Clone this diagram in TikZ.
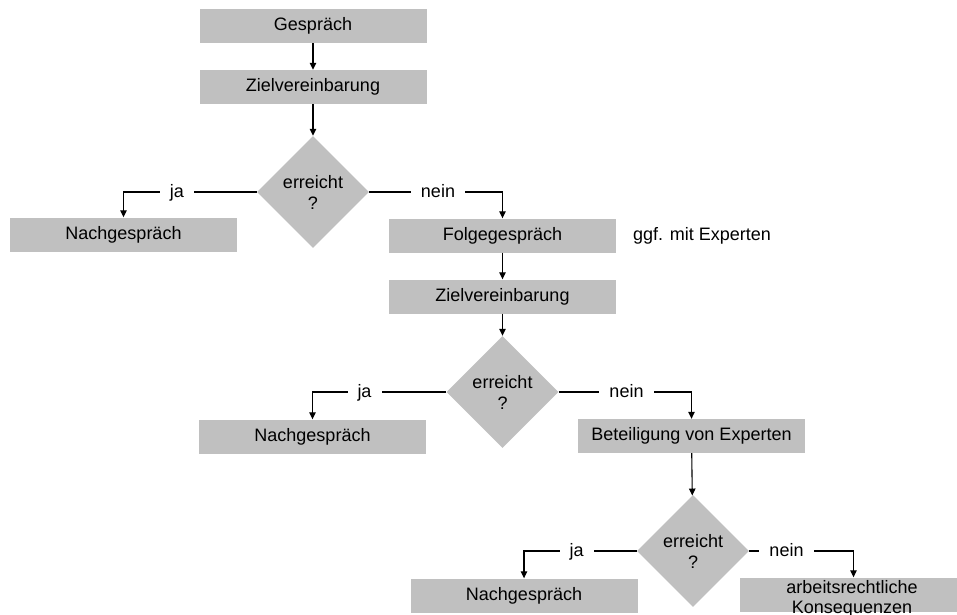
\documentclass[tikz,border=0pt]{standalone}
\usepackage{fontspec}
\setmainfont{Liberation Sans}
\usetikzlibrary{shapes.geometric,arrows.meta}
\definecolor{boxgray}{HTML}{C0C0C0}
\begin{document}
\begin{tikzpicture}[x=1pt,y=-1pt,
  every node/.style={font=\fontsize{18}{21}\selectfont, text=black},
  box/.style={fill=boxgray, minimum width=227pt, minimum height=34pt, inner sep=0pt},
  dec/.style={diamond, fill=boxgray, minimum width=112pt, minimum height=112pt, inner sep=0pt, align=center},
  lbl/.style={fill=white, inner xsep=10pt, inner ysep=1pt, anchor=base},
  conn/.style={line width=1.1pt, -{Triangle[length=7pt,width=6.5pt]}}
]
\useasboundingbox (0,0) rectangle (957,614);

% boxes and decisions
\node[box] (g1) at (313,26) {Gespräch};
\node[box] (z1) at (313,87) {Zielvereinbarung};
\node[dec] (d1) at (313,192) {erreicht\\?};
\node[box] (n1) at (123.5,234.5) {Nachgespräch};
\node[box] (f1) at (502.5,235.5) {Folgegespräch};
\node[anchor=west, inner sep=0pt] (ggf) at (633,236) {ggf. mit Experten};
\node[box] (z2) at (502.5,296.5) {Zielvereinbarung};
\node[dec] (d2) at (502.5,392) {erreicht\\?};
\node[box] (n2) at (312.5,436.5) {Nachgespräch};
\node[box] (b2) at (691.5,436) {Beteiligung von Experten};
\node[dec] (d3) at (693,551) {erreicht\\?};
\node[box] (n3) at (524,595.5) {Nachgespräch};
\node[box] (a3) at (853.5,594.5) {};
\node[align=center, inner sep=0pt, font=\fontsize{18}{20}\selectfont] (a3t) at (852,599) {arbeitsrechtliche\\Konsequenzen};

% connectors
\draw[conn] (g1) -- (z1);
\draw[conn] (z1) -- (d1);
\draw[conn] (d1.west) -| (n1.north);
\draw[conn] (d1.east) -| (f1.north);
\draw[conn] (f1) -- (z2);
\draw[conn] (z2) -- (d2);
\draw[conn] (d2.west) -| (n2.north);
\draw[conn] (d2.east) -| (b2.north);
\draw[conn] (b2) -- (d3);
\draw[conn] (d3.west) -| (n3.north);
\draw[conn] (d3.east) -| (a3.north);

% branch labels
\node[lbl] (ja1) at (177,197) {ja};
\node[lbl] (nein1) at (438,197) {nein};
\node[lbl] (ja2) at (364.5,397) {ja};
\node[lbl] (nein2) at (626.5,397) {nein};
\node[lbl] (ja3) at (576.5,556) {ja};
\node[lbl] (nein3) at (786.5,556) {nein};
\end{tikzpicture}
\end{document}
